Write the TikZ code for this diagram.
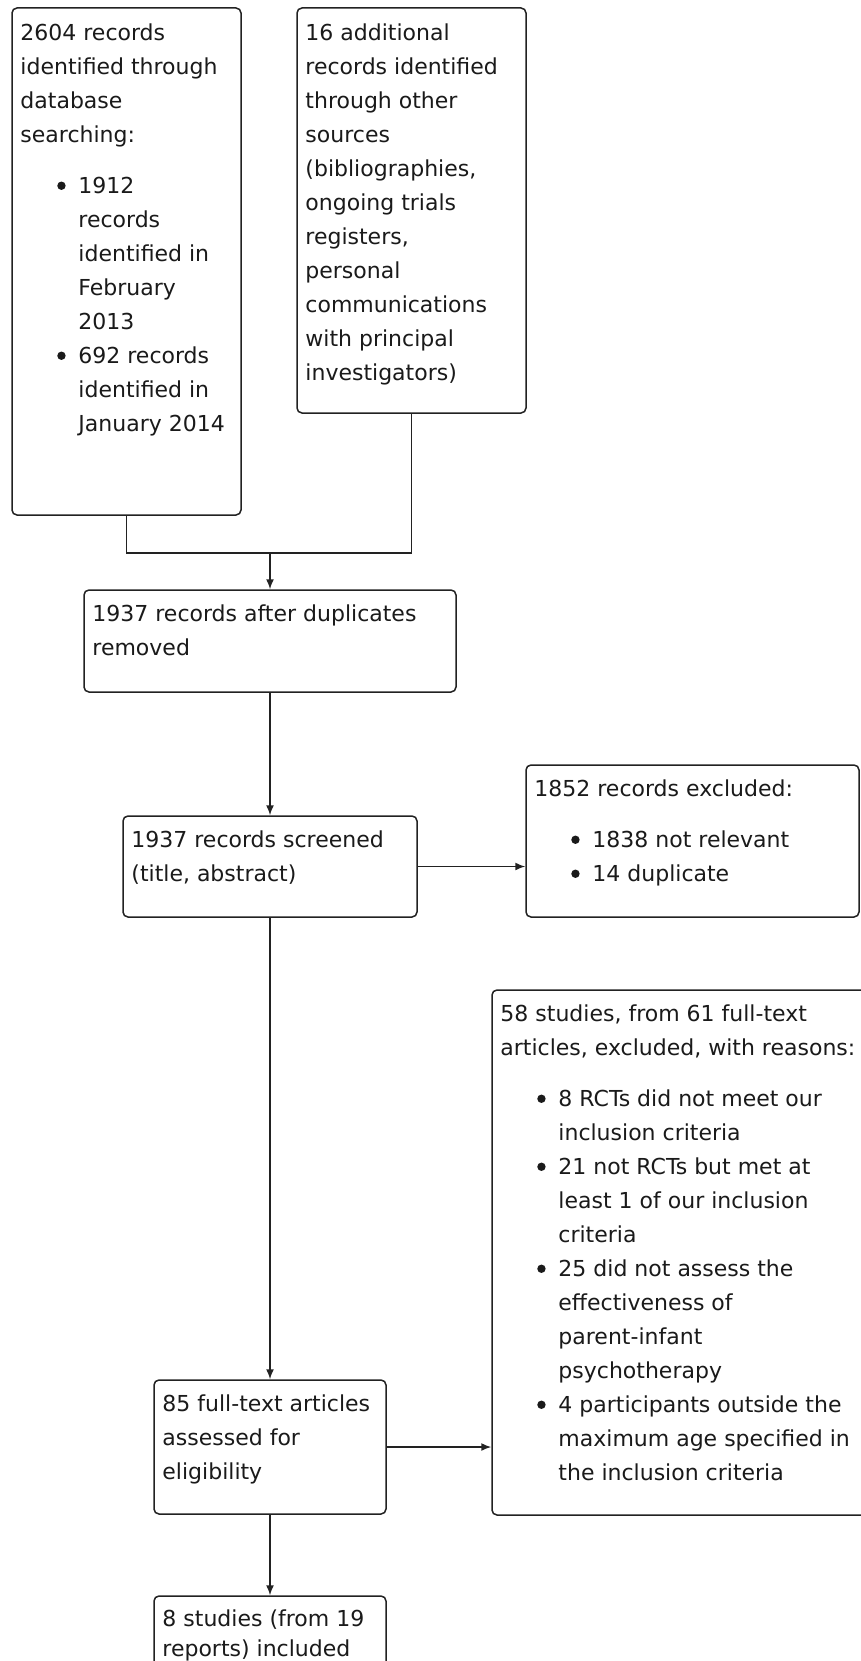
\documentclass[tikz,border=0pt]{standalone}
\usepackage{fontspec}
\setmainfont{DejaVu Sans}
\usetikzlibrary{arrows.meta,calc}
\definecolor{linec}{HTML}{222222}
\definecolor{textc}{HTML}{1A1A1A}
\tikzset{
  box/.style={draw=linec, line width=1.5pt, rounded corners=5pt, inner sep=0pt, rectangle},
  txt/.style={anchor=base west, inner sep=0pt, font=\fontsize{22}{34}\selectfont, text=textc},
  link/.style={draw=linec, line width=1.5pt},
  arr/.style={link, -{Latex[length=10pt,width=8pt]}},
}
\newcommand\bdot{\tikz[baseline=0pt]\fill[textc] (0pt,7.5pt) circle (4.2pt);}
\newcommand\bitem[1]{\hspace*{36.8pt}\makebox[21.2pt][l]{\bdot}#1}
\newcommand\bcont[1]{\hspace*{58pt}#1}
\newcommand\tbox[2]{\parbox[t]{#1}{\raggedright #2}}
\begin{document}
\begin{tikzpicture}[x=1pt,y=1pt]
\path[use as bounding box, fill=white] (0,0) rectangle (861,-1661);
\clip (0,0) rectangle (861,-1661);

% boxes
\node[box, minimum width=229pt, minimum height=507pt] (b1) at (126.5,-261.5) {};
\node[box, minimum width=229pt, minimum height=405pt] (b2) at (411.5,-210.5) {};
\node[box, minimum width=372pt, minimum height=102pt] (b3) at (270,-641) {};
\node[box, minimum width=294pt, minimum height=101pt] (b4) at (270,-866.5) {};
\node[box, minimum width=333pt, minimum height=152pt] (b5) at (692.5,-841) {};
\node[box, minimum width=408pt, minimum height=525pt] (b6) at (696,-1252.5) {};
\node[box, minimum width=232pt, minimum height=134pt] (b7) at (270,-1447) {};
\node[box, minimum width=232pt, minimum height=140pt] (b8) at (270,-1666) {};

% texts
\node[txt] (t1) at ([xshift=9pt,yshift=-33pt]b1.north west) {\tbox{215pt}{2604 records\\identified through\\database\\searching:\\[17pt]\bitem{1912}\\\bcont{records}\\\bcont{identified in}\\\bcont{February}\\\bcont{2013}\\\bitem{692 records}\\\bcont{identified in}\\\bcont{January 2014}}};
\node[txt] (t2) at ([xshift=9pt,yshift=-33pt]b2.north west) {\tbox{215pt}{16 additional\\records identified\\through other\\sources\\(bibliographies,\\ongoing trials\\registers,\\personal\\communications\\with principal\\investigators)}};
\node[txt] (t3) at ([xshift=9pt,yshift=-32pt]b3.north west) {\tbox{360pt}{1937 records after duplicates\\removed}};
\node[txt] (t4) at ([xshift=9pt,yshift=-32pt]b4.north west) {\tbox{284pt}{1937 records screened\\(title, abstract)}};
\node[txt] (t5) at ([xshift=9pt,yshift=-32pt]b5.north west) {\tbox{320pt}{1852 records excluded:\\[17pt]\bitem{1838 not relevant}\\\bitem{14 duplicate}}};
\node[txt] (t6) at ([xshift=9pt,yshift=-32pt]b6.north west) {\tbox{380pt}{58 studies, from 61 full-text\\articles, excluded, with reasons:\\[17pt]\bitem{8 RCTs did not meet our}\\\bcont{inclusion criteria}\\\bitem{21 not RCTs but met at}\\\bcont{least 1 of our inclusion}\\\bcont{criteria}\\\bitem{25 did not assess the}\\\bcont{effectiveness of}\\\bcont{parent-infant}\\\bcont{psychotherapy}\\\bitem{4 participants outside the}\\\bcont{maximum age specified in}\\\bcont{the inclusion criteria}}};
\node[txt] (t7) at ([xshift=9pt,yshift=-32pt]b7.north west) {\tbox{222pt}{85 full-text articles\\assessed for\\eligibility}};
\node[txt] (t8) at ([xshift=9pt,yshift=-31pt]b8.north west) {\tbox{222pt}{8 studies (from 19\\[-4pt]reports) included}};

% connectors
\coordinate (j) at (270,-553);
\draw[link] (b1.south) |- (j);
\draw[link] (b2.south) |- (j);
\draw[arr] (j) -- (b3.north);
\draw[arr] (b3.south) -- (b4.north);
\draw[arr] (b4.east) -- (b4.east -| b5.west);
\draw[arr] (b4.south) -- (b7.north);
\draw[arr] (b7.east) -- (b7.east -| b6.west);
\draw[arr] (b7.south) -- (b8.north);
\end{tikzpicture}
\end{document}
